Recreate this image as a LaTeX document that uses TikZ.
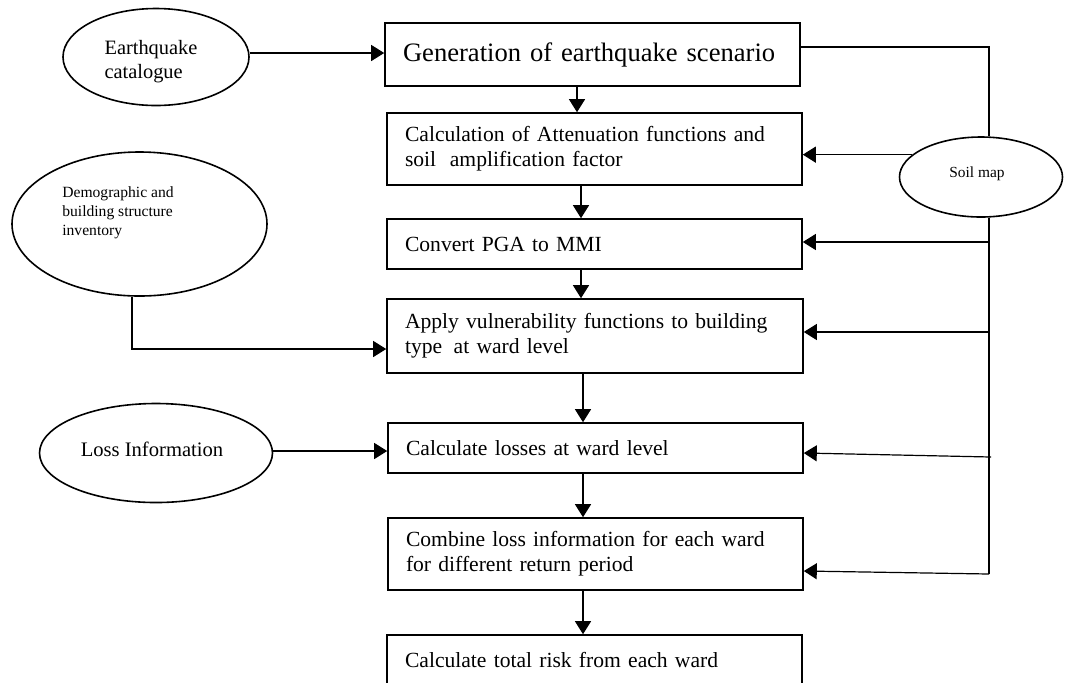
\documentclass[tikz,border=0pt]{standalone}
\usepackage{fontspec}
\setmainfont{Liberation Serif}
\usetikzlibrary{arrows.meta,shapes.geometric,calc}
\begin{document}
\begin{tikzpicture}[x=0.5pt,y=-0.5pt,
  box/.style={draw, line width=0.8pt, rectangle, inner sep=0pt, align=left,
    minimum width=207.5pt, text width=189.5pt, font=\fontsize{10.8}{12.5}\selectfont},
  src/.style={draw, ellipse, line width=0.8pt, inner sep=0pt},
  arr/.style={line width=0.6pt, -{Triangle[length=6.5pt,width=8pt]}},
  ln/.style={line width=0.6pt}]
\useasboundingbox (0,0) rectangle (1076,682);
\clip (0,0) rectangle (1076,682);
% process boxes
\node[box, minimum height=31.5pt, font=\fontsize{13.3}{15}\selectfont] (g) at (592.5,54.5) {\mbox{Generation of earthquake scenario}};
\node[box, minimum height=36pt] (att) at (594.5,149) {Calculation of Attenuation functions and\\soil\hspace{0.3em} amplification factor};
\node[box, minimum height=25pt] (mmi) at (594.5,244) {Convert PGA to MMI};
\node[box, minimum width=208pt, text width=190pt, minimum height=37pt] (vul) at (595,336) {\makebox[\linewidth][s]{Apply vulnerability functions to building}\\type\hspace{0.2em} at ward level};
\node[box, minimum height=25pt] (loss5) at (595.5,448) {Calculate losses at ward level};
\node[box, minimum height=36pt] (comb) at (595.5,554) {Combine loss information for each ward\\for different return period};
\node[box, minimum height=25pt] (tot) at (594.5,660) {Calculate total risk from each ward};
% sources
\node[src, minimum width=93pt, minimum height=48.5pt] (eq) at (156,57) {};
\node[align=left, inner sep=0pt, font=\fontsize{10.2}{12}\selectfont] (eqtext) at (151,62) {Earthquake\\catalogue};
\node[src, minimum width=127.5pt, minimum height=72pt] (demo) at (139.5,224) {};
\node[align=left, inner sep=0pt, font=\fontsize{7.8}{9.5}\selectfont] (demotext) at (118,213) {Demographic and\\building structure\\inventory};
\node[src, minimum width=116.5pt, minimum height=49.5pt] (lossinfo) at (156,453) {};
\node[inner sep=0pt, font=\fontsize{10.3}{12}\selectfont] (losstext) at (152,449) {Loss Information};
\node[src, minimum width=81.5pt, minimum height=40pt] (soil) at (981,177) {};
\node[inner sep=0pt, font=\fontsize{7.7}{9}\selectfont] (soiltext) at (977,174) {Soil map};
% coordinates
\coordinate (a1) at (577,0);
\coordinate (a2) at (581,0);
\coordinate (a3) at (583,0);
\coordinate (dx) at (132,349);
\coordinate (t1) at (989,47);
\coordinate (b1) at (989,574);
\coordinate (r3) at (989,242);
\coordinate (r4) at (989,332);
\coordinate (r5) at (991,457);
% main chain
\draw[arr] ([yshift=2pt]eq.east) -- ([yshift=2pt]eq.east -| g.west);
\draw[arr] (g.south -| a1) -- (att.north -| a1);
\draw[arr] (att.south -| a2) -- (mmi.north -| a2);
\draw[arr] (mmi.south -| a2) -- (vul.north -| a2);
\draw[arr] (vul.south -| a3) -- (loss5.north -| a3);
\draw[arr] (loss5.south -| a3) -- (comb.north -| a3);
\draw[arr] (comb.south -| a3) -- (tot.north -| a3);
% inputs from left
\draw[arr] (demo.south -| dx) -- (dx) -- (dx -| vul.west);
\draw[arr] ([yshift=1pt]lossinfo.east) -- ([yshift=1pt]lossinfo.east -| loss5.west);
% soil map side
\draw[ln] (g.east |- t1) -- (t1) -- (soil.north -| t1);
\draw[arr] (soil.162) -- (soil.162 -| att.east);
\draw[ln] (soil.south -| b1) -- (b1);
\draw[arr] (r3) -- (r3 -| mmi.east);
\draw[arr] (r4) -- (r4 -| vul.east);
\draw[arr] (r5) -- ([yshift=-2.5pt]loss5.east);
\draw[arr] (b1) -- ([yshift=-8.5pt]comb.east);
\end{tikzpicture}
\end{document}
